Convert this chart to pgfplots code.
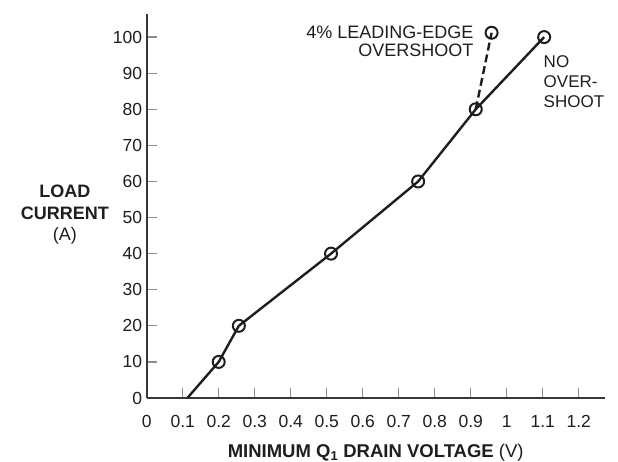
\documentclass[border=0pt]{standalone}
\usepackage{pgfplots}
\pgfplotsset{compat=1.18}
\usepackage{fontspec}
\setmainfont{Liberation Sans}
\definecolor{ink}{HTML}{1E1E1E}
\begin{document}
\begin{tikzpicture}
\begin{axis}[
  scale only axis, width=458.3pt, height=384pt,
  xmin=0, xmax=1.273, ymin=0, ymax=106.4,
  axis x line=bottom, axis y line=left,
  axis line style={-, line width=1.8pt, draw=black!78},
  xtick={0,0.1,0.2,0.3,0.4,0.5,0.6,0.7,0.8,0.9,1.0,1.1,1.2},
  xticklabels={0,0.1,0.2,0.3,0.4,0.5,0.6,0.7,0.8,0.9,1,1.1,1.2},
  ytick={0,10,20,30,40,50,60,70,80,90,100},
  tick align=inside,
  major tick length=10pt,
  tick style={line width=1.3pt, draw=black!45},
  ticklabel style={font=\fontsize{17.5}{19}\selectfont, text=ink},
  /pgf/number format/assume math mode=true,
  xticklabel style={yshift=-14pt},
  yticklabel style={xshift=-1pt},
  clip=false,
]
\addplot[ink, line width=2.4pt, dash pattern=on 8pt off 4pt, mark=o, mark size=6pt, mark indices={2},
  mark options={solid, fill=white, line width=2pt}]
  coordinates {(0.914,80) (0.958,101.2)};
\addplot[ink, line width=2.4pt, mark=o, mark size=6pt, mark indices={2,3,4,5,6,7},
  mark options={solid, fill=white, line width=2pt}]
  coordinates {(0.113,0) (0.2,10) (0.256,20) (0.512,40) (0.754,60) (0.914,80) (1.104,100)};
\node[anchor=east, align=right, text=ink, font=\fontsize{18}{18.5}\selectfont] at (axis cs:0.917,98.9) {4\% LEADING-EDGE\\OVERSHOOT};
\node[anchor=west, align=left, text=ink, font=\fontsize{17}{20.3}\selectfont] at (axis cs:1.093,87.6) {NO\\OVER-\\SHOOT};
\node[align=center, text=ink, font=\fontsize{18}{21.5}\selectfont] at (axis cs:-0.227,50.8) {\textbf{LOAD}\\\textbf{CURRENT}\\(A)};
\node[text=ink, font=\fontsize{18.5}{20}\selectfont] at (axis cs:0.636,-15.2) {\textbf{MINIMUM Q\textsubscript{1} DRAIN VOLTAGE} (V)};
\coordinate (O) at (axis cs:0,0);
\end{axis}
\pgfresetboundingbox
\path (O) ++(-146.7pt,-64pt) rectangle ++(618pt,462pt);
\end{tikzpicture}
\end{document}
